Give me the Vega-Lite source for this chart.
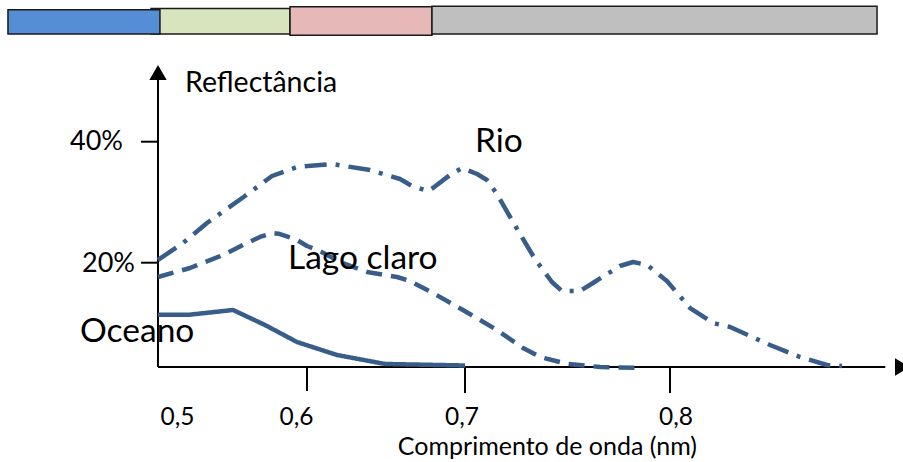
{
  "$schema": "https://vega.github.io/schema/vega-lite/v6.json",
  "width": 903,
  "height": 462,
  "padding": 0,
  "autosize": {"type": "fit", "contains": "padding"},
  "background": "white",
  "config": {"view": {"stroke": null}, "font": "Lato"},
  "datasets": {
    "bands": [
      {"band": "Verde", "x1": 0.4796, "x2": 0.5869, "y1": 57.8, "y2": 62.0},
      {"band": "Azul", "x1": 0.3692, "x2": 0.4865, "y1": 57.8, "y2": 61.8},
      {"band": "Vermelho", "x1": 0.5869, "x2": 0.6791, "y1": 57.6, "y2": 62.3},
      {"band": "Infravermelho", "x1": 0.6791, "x2": 0.9010, "y1": 57.8, "y2": 62.4}
    ],
    "axes": [
      {"x1": 0.485, "x2": 0.485, "y1": 0, "y2": 50.5},
      {"x1": 0.485, "x2": 0.905, "y1": 0, "y2": 0},
      {"x1": 0.4719, "x2": 0.485, "y1": 20, "y2": 20},
      {"x1": 0.4719, "x2": 0.485, "y1": 40, "y2": 40},
      {"x1": 0.6, "x2": 0.6, "y1": 0, "y2": -4.6},
      {"x1": 0.7, "x2": 0.7, "y1": 0, "y2": -5},
      {"x1": 0.8, "x2": 0.8, "y1": 0, "y2": -5}
    ],
    "curves": [
      {"series": "Oceano", "wl": 0.485, "refl": 10.0},
      {"series": "Oceano", "wl": 0.5082, "refl": 10.0},
      {"series": "Oceano", "wl": 0.5429, "refl": 10.93},
      {"series": "Oceano", "wl": 0.5676, "refl": 8.05},
      {"series": "Oceano", "wl": 0.5923, "refl": 4.79},
      {"series": "Oceano", "wl": 0.619, "refl": 2.3},
      {"series": "Oceano", "wl": 0.6494, "refl": 0.58},
      {"series": "Oceano", "wl": 0.7, "refl": 0.29},
      {"series": "Lago claro", "wl": 0.485, "refl": 17.26},
      {"series": "Lago claro", "wl": 0.5097, "refl": 18.98},
      {"series": "Lago claro", "wl": 0.5352, "refl": 21.27},
      {"series": "Lago claro", "wl": 0.5506, "refl": 22.93},
      {"series": "Lago claro", "wl": 0.5637, "refl": 24.25},
      {"series": "Lago claro", "wl": 0.573, "refl": 24.91},
      {"series": "Lago claro", "wl": 0.5792, "refl": 24.74},
      {"series": "Lago claro", "wl": 0.5923, "refl": 23.75},
      {"series": "Lago claro", "wl": 0.6, "refl": 22.76},
      {"series": "Lago claro", "wl": 0.6082, "refl": 21.93},
      {"series": "Lago claro", "wl": 0.6209, "refl": 20.12},
      {"series": "Lago claro", "wl": 0.638, "refl": 18.22},
      {"series": "Lago claro", "wl": 0.657, "refl": 17.26},
      {"series": "Lago claro", "wl": 0.6652, "refl": 16.49},
      {"series": "Lago claro", "wl": 0.6797, "refl": 14.19},
      {"series": "Lago claro", "wl": 0.6987, "refl": 10.93},
      {"series": "Lago claro", "wl": 0.7156, "refl": 7.09},
      {"series": "Lago claro", "wl": 0.7283, "refl": 3.64},
      {"series": "Lago claro", "wl": 0.7366, "refl": 1.92},
      {"series": "Lago claro", "wl": 0.7502, "refl": 0.58},
      {"series": "Lago claro", "wl": 0.7659, "refl": 0.0},
      {"series": "Lago claro", "wl": 0.7839, "refl": -0.15},
      {"series": "Rio", "wl": 0.485, "refl": 20.45},
      {"series": "Rio", "wl": 0.5043, "refl": 23.26},
      {"series": "Rio", "wl": 0.5228, "refl": 26.56},
      {"series": "Rio", "wl": 0.5521, "refl": 31.02},
      {"series": "Rio", "wl": 0.573, "refl": 34.33},
      {"series": "Rio", "wl": 0.5923, "refl": 35.82},
      {"series": "Rio", "wl": 0.6158, "refl": 36.31},
      {"series": "Rio", "wl": 0.6399, "refl": 35.32},
      {"series": "Rio", "wl": 0.6589, "refl": 33.83},
      {"series": "Rio", "wl": 0.6665, "refl": 32.68},
      {"series": "Rio", "wl": 0.6766, "refl": 31.85},
      {"series": "Rio", "wl": 0.6797, "refl": 32.35},
      {"series": "Rio", "wl": 0.6905, "refl": 34.5},
      {"series": "Rio", "wl": 0.6981, "refl": 35.65},
      {"series": "Rio", "wl": 0.7059, "refl": 34.66},
      {"series": "Rio", "wl": 0.7107, "refl": 33.67},
      {"series": "Rio", "wl": 0.7156, "refl": 31.36},
      {"series": "Rio", "wl": 0.7234, "refl": 26.73},
      {"series": "Rio", "wl": 0.7341, "refl": 20.61},
      {"series": "Rio", "wl": 0.7424, "refl": 16.3},
      {"series": "Rio", "wl": 0.7473, "refl": 14.57},
      {"series": "Rio", "wl": 0.7561, "refl": 14.57},
      {"series": "Rio", "wl": 0.7624, "refl": 16.11},
      {"series": "Rio", "wl": 0.7756, "refl": 19.37},
      {"series": "Rio", "wl": 0.782, "refl": 20.12},
      {"series": "Rio", "wl": 0.7888, "refl": 19.56},
      {"series": "Rio", "wl": 0.7985, "refl": 16.49},
      {"series": "Rio", "wl": 0.8098, "refl": 11.31},
      {"series": "Rio", "wl": 0.821, "refl": 8.44},
      {"series": "Rio", "wl": 0.8293, "refl": 7.67},
      {"series": "Rio", "wl": 0.8488, "refl": 4.22},
      {"series": "Rio", "wl": 0.8634, "refl": 1.92},
      {"series": "Rio", "wl": 0.8766, "refl": 0.38},
      {"series": "Rio", "wl": 0.8839, "refl": 0.19}
    ],
    "curveLabels": [
      {"text": "Oceano", "wl": 0.4248, "refl": 4.79},
      {"text": "Lago claro", "wl": 0.5853, "refl": 18.79},
      {"text": "Rio", "wl": 0.7049, "refl": 38.3}
    ],
    "yTitle": [{"text": "Reflectância", "wl": 0.5058, "refl": 48.21}],
    "yLabels": [
      {"text": "40%", "wl": 0.458, "refl": 40},
      {"text": "20%", "wl": 0.4672, "refl": 19.8}
    ],
    "xLabels": [
      {"text": "0,5", "wl": 0.5, "refl": -11.12},
      {"text": "0,6", "wl": 0.5919, "refl": -11.12},
      {"text": "0,7", "wl": 0.6981, "refl": -11.12},
      {"text": "0,8", "wl": 0.8029, "refl": -11.12}
    ],
    "xTitle": [{"text": "Comprimento de onda (nm)", "wl": 0.7402, "refl": -16.9}],
    "arrowUp": [{"wl": 0.485, "refl": 51.44}],
    "arrowRight": [{"wl": 0.9134, "refl": 0}]
  },
  "layer": [
    {
      "data": {"name": "bands"},
      "mark": {"type": "rect", "stroke": "#1a1a1a", "strokeWidth": 1.5},
      "encoding": {
        "x": {"field": "x1", "type": "quantitative", "scale": {"domain": [0.485, 0.6, 0.7, 0.8, 0.9], "range": [158, 307, 465, 670, 875], "nice": false, "zero": false}, "axis": null},
        "x2": {"field": "x2"},
        "y": {"field": "y1", "type": "quantitative", "scale": {"domain": [0, 20, 40, 60], "range": [367, 262.7, 141.7, 20.7], "nice": false, "zero": false}, "axis": null},
        "y2": {"field": "y2"},
        "color": {"field": "band", "type": "nominal", "scale": {"domain": ["Azul", "Verde", "Vermelho", "Infravermelho"], "range": ["#558ED5", "#D7E4BD", "#E6B9B8", "#BFBFBF"]}, "legend": null}
      }
    },
    {
      "data": {"name": "axes"},
      "mark": {"type": "rule", "color": "#000000", "strokeWidth": 2},
      "encoding": {
        "x": {"field": "x1", "type": "quantitative"},
        "x2": {"field": "x2"},
        "y": {"field": "y1", "type": "quantitative"},
        "y2": {"field": "y2"}
      }
    },
    {
      "data": {"name": "arrowUp"},
      "mark": {"type": "point", "shape": "triangle-up", "filled": true, "size": 300, "color": "#000000", "opacity": 1},
      "encoding": {
        "x": {"field": "wl", "type": "quantitative"},
        "y": {"field": "refl", "type": "quantitative"}
      }
    },
    {
      "data": {"name": "arrowRight"},
      "mark": {"type": "point", "shape": "triangle-right", "filled": true, "size": 300, "color": "#000000", "opacity": 1},
      "encoding": {
        "x": {"field": "wl", "type": "quantitative"},
        "y": {"field": "refl", "type": "quantitative"}
      }
    },
    {
      "data": {"name": "curves"},
      "mark": {"type": "line", "color": "#385D8A", "strokeWidth": 4.5, "strokeCap": "butt", "strokeJoin": "round"},
      "encoding": {
        "x": {"field": "wl", "type": "quantitative"},
        "y": {"field": "refl", "type": "quantitative"},
        "detail": {"field": "series"},
        "order": {"field": "wl", "type": "quantitative"},
        "strokeDash": {"field": "series", "type": "nominal", "scale": {"domain": ["Oceano", "Lago claro", "Rio"], "range": [[1, 0], [16, 9], [22, 9, 4, 9]]}, "legend": null}
      }
    },
    {
      "data": {"name": "curveLabels"},
      "mark": {"type": "text", "align": "left", "baseline": "alphabetic", "fontSize": 33.5, "color": "#000000"},
      "encoding": {
        "x": {"field": "wl", "type": "quantitative"},
        "y": {"field": "refl", "type": "quantitative"},
        "text": {"field": "text"}
      }
    },
    {
      "data": {"name": "yTitle"},
      "mark": {"type": "text", "align": "left", "baseline": "alphabetic", "fontSize": 28.5, "color": "#000000"},
      "encoding": {
        "x": {"field": "wl", "type": "quantitative"},
        "y": {"field": "refl", "type": "quantitative"},
        "text": {"field": "text"}
      }
    },
    {
      "data": {"name": "yLabels"},
      "mark": {"type": "text", "align": "right", "baseline": "middle", "fontSize": 27, "color": "#000000"},
      "encoding": {
        "x": {"field": "wl", "type": "quantitative"},
        "y": {"field": "refl", "type": "quantitative"},
        "text": {"field": "text"}
      }
    },
    {
      "data": {"name": "xLabels"},
      "mark": {"type": "text", "align": "center", "baseline": "alphabetic", "fontSize": 24.5, "color": "#000000"},
      "encoding": {
        "x": {"field": "wl", "type": "quantitative"},
        "y": {"field": "refl", "type": "quantitative"},
        "text": {"field": "text"}
      }
    },
    {
      "data": {"name": "xTitle"},
      "mark": {"type": "text", "align": "center", "baseline": "alphabetic", "fontSize": 25, "color": "#000000"},
      "encoding": {
        "x": {"field": "wl", "type": "quantitative"},
        "y": {"field": "refl", "type": "quantitative"},
        "text": {"field": "text"}
      }
    }
  ]
}
